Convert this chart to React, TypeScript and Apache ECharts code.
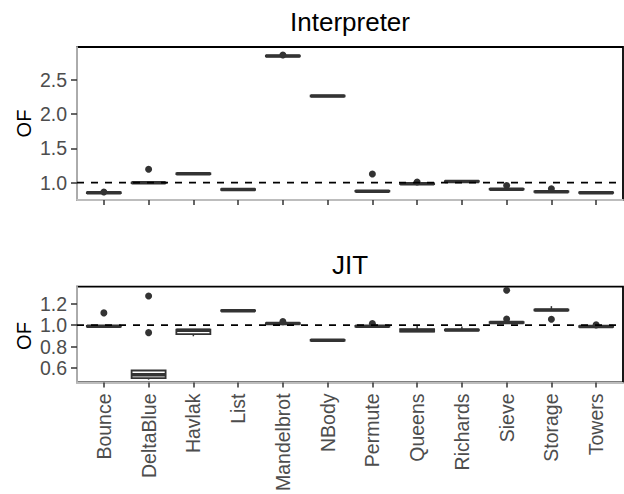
import React, { useEffect, useRef } from "react";
import * as echarts from "echarts";

const categories = [
  "Bounce", "DeltaBlue", "Havlak", "List", "Mandelbrot", "NBody",
  "Permute", "Queens", "Richards", "Sieve", "Storage", "Towers",
];

// five-number summaries: [min, Q1, median, Q3, max]
const interpreterBoxes = [
  [0.849, 0.849, 0.853, 0.857, 0.857],
  [0.994, 0.994, 0.998, 1.002, 1.002],
  [1.126, 1.126, 1.130, 1.134, 1.134],
  [0.896, 0.896, 0.900, 0.904, 0.904],
  [2.846, 2.846, 2.850, 2.854, 2.854],
  [2.262, 2.262, 2.266, 2.270, 2.270],
  [0.872, 0.872, 0.876, 0.880, 0.880],
  [0.980, 0.980, 0.984, 0.988, 0.988],
  [1.014, 1.014, 1.018, 1.022, 1.022],
  [0.901, 0.901, 0.905, 0.909, 0.909],
  [0.865, 0.865, 0.869, 0.873, 0.873],
  [0.850, 0.850, 0.854, 0.858, 0.858],
];
const interpreterOutliers = [
  [0.865], [1.196], [], [], [2.865], [], [1.127], [1.01], [], [0.96], [0.91], [],
];

const jitBoxes = [
  [0.986, 0.986, 0.989, 0.992, 0.992],
  [0.490, 0.505, 0.535, 0.576, 0.576],
  [0.896, 0.917, 0.952, 0.958, 0.958],
  [1.133, 1.133, 1.136, 1.139, 1.139],
  [1.013, 1.013, 1.016, 1.019, 1.019],
  [0.856, 0.856, 0.859, 0.862, 0.862],
  [0.987, 0.987, 0.990, 0.993, 0.993],
  [0.939, 0.939, 0.950, 0.963, 0.997],
  [0.952, 0.952, 0.955, 0.958, 0.987],
  [1.022, 1.022, 1.025, 1.028, 1.028],
  [1.139, 1.139, 1.142, 1.145, 1.178],
  [0.984, 0.984, 0.987, 0.990, 0.990],
];
const jitOutliers = [
  [1.115], [1.273, 0.93], [], [], [1.033], [], [1.016], [], [], [1.057, 1.327], [1.055], [1.003],
];

const referenceValue = 1.0;
const interpreterTicks = [1.0, 1.5, 2.0, 2.5];
const jitTicks = [0.6, 0.8, 1.0, 1.2];

const FONT = "'Liberation Sans', Arial, Helvetica, sans-serif";
const DARK = "#333333";

function renderBox(params: any, api: any) {
  const x = api.value(0);
  const pMin = api.coord([x, api.value(1)]);
  const pQ1 = api.coord([x, api.value(2)]);
  const pMed = api.coord([x, api.value(3)]);
  const pQ3 = api.coord([x, api.value(4)]);
  const pMax = api.coord([x, api.value(5)]);
  const half = api.size([0.76, 0])[0] / 2;
  const cx = pMed[0];
  return {
    type: "group",
    children: [
      { type: "line", shape: { x1: cx, y1: pMax[1], x2: cx, y2: pQ3[1] }, style: { stroke: DARK, lineWidth: 1.5 } },
      { type: "line", shape: { x1: cx, y1: pQ1[1], x2: cx, y2: pMin[1] }, style: { stroke: DARK, lineWidth: 1.5 } },
      {
        type: "rect",
        shape: { x: cx - half, y: pQ3[1], width: 2 * half, height: pQ1[1] - pQ3[1] },
        style: { fill: "#ffffff", stroke: DARK, lineWidth: 1.8 },
      },
      { type: "line", shape: { x1: cx - half, y1: pMed[1], x2: cx + half, y2: pMed[1] }, style: { stroke: DARK, lineWidth: 3.5 } },
    ],
  };
}

const idx = categories.map((_, i) => i);

function makeX(gridIndex: number, showLabels: boolean) {
  return {
    type: "value",
    gridIndex,
    min: -0.6,
    max: 11.6,
    splitLine: { show: false },
    axisLine: { show: true, onZero: false, lineStyle: { color: "#bdbdbd", width: 1.8 } },
    axisTick: { show: true, customValues: idx, length: 5, lineStyle: { color: DARK, width: 1.5 } },
    axisLabel: {
      show: showLabels,
      customValues: idx,
      formatter: (v: number) => categories[Math.round(v)] ?? "",
      rotate: 90,
      margin: 11,
      fontSize: 19.5,
      fontFamily: FONT,
      color: "#4d4d4d",
    },
  };
}

function makeY(gridIndex: number, min: number, max: number, ticks: number[]) {
  return {
    type: "value",
    gridIndex,
    min,
    max,
    splitLine: { show: false },
    axisLine: { show: true, onZero: false, lineStyle: { color: "#bdbdbd", width: 1.8 } },
    axisTick: { show: true, customValues: ticks, length: 6, lineStyle: { color: DARK, width: 1.5 } },
    axisLabel: {
      customValues: ticks,
      formatter: (v: number) => v.toFixed(1),
      margin: 10,
      fontSize: 19.5,
      fontFamily: FONT,
      color: "#4d4d4d",
    },
  };
}

function boxData(boxes: number[][]) {
  return boxes.map((b, i) => [i, ...b]);
}
function outlierData(outs: number[][]) {
  const res: number[][] = [];
  outs.forEach((arr, i) => arr.forEach((v) => res.push([i, v])));
  return res;
}

function panelSeries(k: number, boxes: number[][], outs: number[][]) {
  return [
    {
      type: "custom",
      xAxisIndex: k,
      yAxisIndex: k,
      renderItem: renderBox,
      encode: { x: 0, y: [1, 2, 3, 4, 5] },
      data: boxData(boxes),
      z: 2,
    },
    {
      type: "scatter",
      xAxisIndex: k,
      yAxisIndex: k,
      symbol: "circle",
      symbolSize: 7,
      itemStyle: { color: DARK, opacity: 1 },
      data: outlierData(outs),
      z: 3,
    },
    {
      type: "line",
      xAxisIndex: k,
      yAxisIndex: k,
      showSymbol: false,
      lineStyle: { color: "#000", width: 1.7, type: [7, 7] },
      data: [[-0.6, referenceValue], [11.6, referenceValue]],
      z: 4,
    },
  ];
}

export default function App() {
  const ref = useRef<HTMLDivElement>(null);
  useEffect(() => {
    if (!ref.current) return;
    const chart = echarts.init(ref.current, null, { renderer: "svg" });
    const option: any = {
      animation: false,
      backgroundColor: "#ffffff",
      grid: [
        { left: 77, top: 47, width: 546, height: 153, show: true, borderColor: "#000", borderWidth: 1.8, backgroundColor: "transparent" },
        { left: 77, top: 286.7, width: 546, height: 98.8, show: true, borderColor: "#000", borderWidth: 1.8, backgroundColor: "transparent" },
      ],
      xAxis: [makeX(0, false), makeX(1, true)],
      yAxis: [
        makeY(0, 0.747, 2.982, interpreterTicks),
        makeY(1, 0.464, 1.36, jitTicks),
      ],
      series: [
        ...panelSeries(0, interpreterBoxes, interpreterOutliers),
        ...panelSeries(1, jitBoxes, jitOutliers),
      ],
      graphic: [
        { type: "text", x: 350, y: 22, style: { text: "Interpreter", font: `26px ${FONT}`, fill: "#000", align: "center", verticalAlign: "middle" } },
        { type: "text", x: 350, y: 265, style: { text: "JIT", font: `26px ${FONT}`, fill: "#000", align: "center", verticalAlign: "middle" } },
        { type: "text", x: 23.5, y: 123.5, rotation: Math.PI / 2, style: { text: "OF", font: `20px ${FONT}`, fill: "#000", align: "center", verticalAlign: "middle" } },
        { type: "text", x: 23.5, y: 336, rotation: Math.PI / 2, style: { text: "OF", font: `20px ${FONT}`, fill: "#000", align: "center", verticalAlign: "middle" } },
      ],
    };
    chart.setOption(option);
    return () => chart.dispose();
  }, []);
  return (
    <div
      ref={ref}
      style={{ position: "absolute", left: 0, top: 0, width: 624, height: 494 }}
    />
  );
}
